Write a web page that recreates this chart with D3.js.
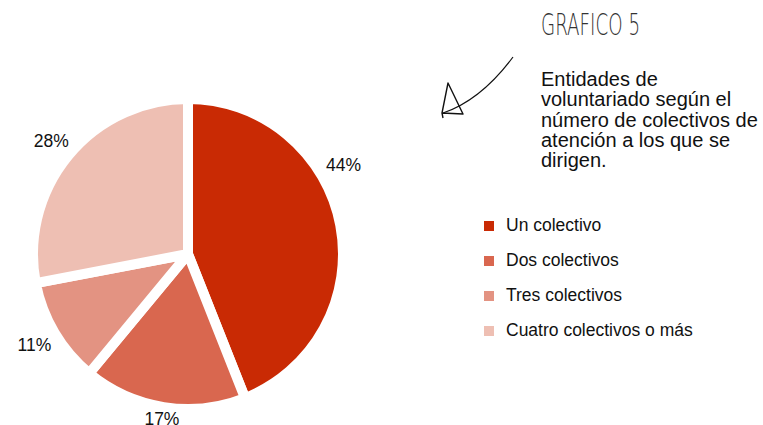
<!DOCTYPE html>
<html>
<head>
<meta charset="utf-8">
<script src="https://cdn.jsdelivr.net/npm/d3@7"></script>
<style>
  body { margin: 0; background: #fff; }
  svg { display: block; }
</style>
</head>
<body>
<div id="chart"></div>
<script>
// data
var categories = ["Un colectivo", "Dos colectivos", "Tres colectivos", "Cuatro colectivos o más"];
var values = [44, 17, 11, 28];
var colors = ["#c92a04", "#d9674f", "#e39382", "#eebfb3"];
var titleLines = ["Entidades de", "voluntariado según el", "número de colectivos de", "atención a los que se", "dirigen."];
var badge = "GRAFICO 5";

var width = 763, height = 425;
var cx = 188, cy = 254, radius = 155;

var svg = d3.select("#chart")
  .append("svg")
    .attr("width", width)
    .attr("height", height);

// pie
var pie = d3.pie().sort(null).value(d => d);
var arcs = pie(values);
var arc = d3.arc().innerRadius(0).outerRadius(radius);

var g = svg.append("g")
  .attr("transform", "translate(" + cx + "," + cy + ")");

g.selectAll("path")
  .data(arcs)
  .enter()
  .append("path")
    .attr("d", arc)
    .attr("fill", (d, i) => colors[i])
    .attr("stroke", "#fff")
    .attr("stroke-width", 10)
    .attr("stroke-linejoin", "round");

// percentage labels outside the pie
// the first label sits a bit higher than its mid angle in the original
var angleNudge = [-19 * Math.PI / 180, 0, 0, 0];
g.selectAll("text.pct")
  .data(arcs)
  .enter()
  .append("text")
    .attr("class", "pct")
    .attr("text-anchor", "middle")
    .attr("dominant-baseline", "central")
    .style("font-family", "Liberation Sans, Arial, sans-serif")
    .style("font-size", "17.5px")
    .style("fill", "#111")
    .text(d => d.value + "%")
    .each(function(d, i) {
      var a = (d.startAngle + d.endAngle) / 2 + angleNudge[i];
      var dx = Math.sin(a), dy = -Math.cos(a);
      var halfW = this.getComputedTextLength() / 2;
      var r = 164 + Math.abs(dx) * halfW;
      d3.select(this).attr("x", dx * r).attr("y", dy * r);
    });

// hand drawn badge and arrow
svg.append("text")
  .attr("x", 541)
  .attr("y", 35)
  .attr("textLength", 99)
  .attr("lengthAdjust", "spacingAndGlyphs")
  .style("font-family", "DejaVu Sans, sans-serif")
  .style("font-weight", 200)
  .style("font-size", "30px")
  .style("fill", "#333")
  .text(badge);

svg.append("path")
  .attr("d", "M513,57 Q481,100 443,113")
  .attr("fill", "none")
  .attr("stroke", "#111")
  .attr("stroke-width", 1.2);
svg.append("path")
  .attr("d", "M448,83 L463,114 L442,113 Z M442,113 L443,118")
  .attr("fill", "none")
  .attr("stroke", "#111")
  .attr("stroke-width", 1.4)
  .attr("stroke-linejoin", "round");

// title
var title = svg.append("text")
  .attr("x", 541)
  .attr("y", 86)
  .style("font-family", "Liberation Sans, Arial, sans-serif")
  .style("font-size", "20px")
  .style("fill", "#111");
title.selectAll("tspan")
  .data(titleLines)
  .enter()
  .append("tspan")
    .attr("x", 541)
    .attr("dy", (d, i) => i == 0 ? 0 : 20.3)
    .text(d => d);

// legend
var legend = svg.append("g")
  .attr("transform", "translate(484,226)");
var row = legend.selectAll("g")
  .data(categories)
  .enter()
  .append("g")
    .attr("transform", (d, i) => "translate(0," + (i * 35) + ")");
row.append("rect")
  .attr("x", 0)
  .attr("y", -5)
  .attr("width", 10)
  .attr("height", 10)
  .attr("fill", (d, i) => colors[i]);
row.append("text")
  .attr("x", 22)
  .attr("y", 5)
  .style("font-family", "Liberation Sans, Arial, sans-serif")
  .style("font-size", "17.5px")
  .style("fill", "#111")
  .text(d => d);
</script>
</body>
</html>
